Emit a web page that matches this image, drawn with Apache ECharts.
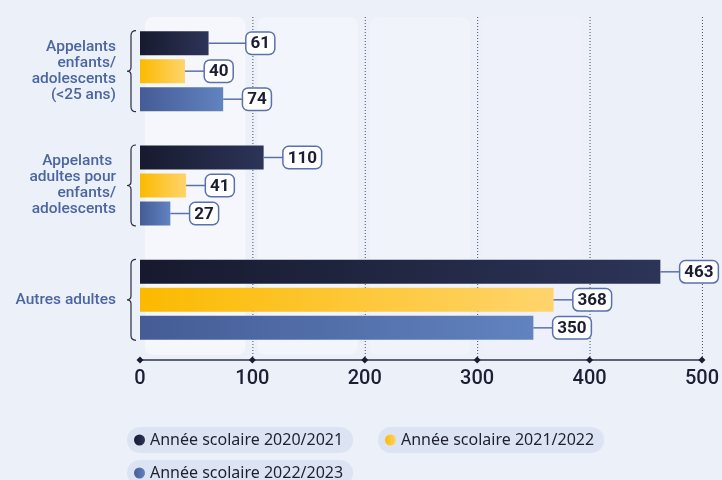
<!DOCTYPE html>
<html>
<head>
<meta charset="utf-8">
<script src="https://cdn.jsdelivr.net/npm/echarts@6/dist/echarts.min.js"></script>
<style>
  html, body { margin: 0; padding: 0; background: #ECF0F9; }
  #chart { width: 722px; height: 480px; }
</style>
</head>
<body>
<div id="chart"></div>
<script>
// Caller groups (y axis, top to bottom)
const categories = [
  'Appelants\nenfants/\nadolescents\n(<25 ans)',
  'Appelants \nadultes pour\nenfants/\nadolescents',
  'Autres adultes'
];
// School years shown as series
const seriesNames = ['Année scolaire 2020/2021', 'Année scolaire 2021/2022', 'Année scolaire 2022/2023'];
const values2021 = [61, 110, 463];
const values2122 = [40, 41, 368];
const values2223 = [74, 27, 350];
// Value axis ticks
const xTicks = [0, 100, 200, 300, 400, 500];

const seriesValues = [values2021, values2122, values2223];

const FONT_NUM = 'Roboto, "DejaVu Sans", sans-serif';
const gradients = [
  ['#171A2E', '#2C3458'],
  ['#FBBA00', '#FFD46C'],
  ['#455C96', '#6183BF']
];
const panelFills = ['#F5F7FC', '#F2F5FB', '#F0F3FA', '#EEF1F9'];
const LINE_BLUE = '#5A71AB';

function grad(c) {
  return new echarts.graphic.LinearGradient(0, 0, 1, 0, [
    { offset: 0, color: c[0] },
    { offset: 1, color: c[1] }
  ]);
}

const valueLabel = {
  show: true,
  position: 'right',
  distance: 0,
  rich: {
    ln: { width: 20, height: 1.5, backgroundColor: LINE_BLUE },
    lnLong: { width: 38, height: 1.5, backgroundColor: LINE_BLUE },
    bx: {
      backgroundColor: '#FFFFFF',
      borderColor: LINE_BLUE,
      borderWidth: 1.5,
      borderRadius: 5,
      padding: [3, 4, 1, 4],
      fontFamily: FONT_NUM,
      fontWeight: 'bold',
      fontSize: 17,
      lineHeight: 18,
      color: '#1B1E33'
    }
  }
};

const barSeries = seriesNames.map((name, s) => ({
  name: name,
  type: 'bar',
  z: 2,
  barWidth: 24,
  barGap: '16.7%',
  itemStyle: { color: grad(gradients[s]) },
  label: Object.assign({}, valueLabel, {
    // first label of the top group gets a longer leader so it clears its neighbours
    formatter: p => (s === 0 && p.dataIndex === 0 ? '{lnLong|}' : '{ln|}') + '{bx|' + p.value + '}'
  }),
  data: seriesValues[s]
}));

// Background panels, dotted grid lines and diamond tick marks, placed on the value axis
const decorSeries = {
  type: 'custom',
  z: 1,
  silent: true,
  data: xTicks.map(v => [v]),
  encode: { x: 0 },
  renderItem: function (params, api) {
    const v = api.value(0);
    const cs = params.coordSys;
    const x = api.coord([v, 0])[0];
    const top = cs.y + 3;
    const bottom = cs.y + cs.height + 3;
    const children = [];
    const idx = params.dataIndex;
    if (idx < panelFills.length) {
      const nx = api.coord([xTicks[idx + 1], 0])[0];
      children.push({
        type: 'rect',
        shape: { x: x + 5, y: top, width: nx - x - 12, height: cs.height - 5, r: 8 },
        style: { fill: panelFills[idx] }
      });
    }
    if (v > 0) {
      children.push({
        type: 'line',
        shape: { x1: x + 0.5, y1: top, x2: x + 0.5, y2: bottom },
        style: { stroke: '#4A4F63', lineWidth: 1, lineDash: [1, 2] }
      });
    }
    const d = 3.5;
    children.push({
      type: 'polygon',
      shape: { points: [[x, bottom - d], [x + d, bottom], [x, bottom + d], [x - d, bottom]] },
      style: { fill: '#1B1E33' }
    });
    return { type: 'group', children: children };
  }
};

// Curly braces to the left of each bar group
const braceSeries = {
  type: 'custom',
  z: 3,
  silent: true,
  data: categories.map((c, i) => [i]),
  encode: { y: 0 },
  renderItem: function (params, api) {
    const cs = params.coordSys;
    const yc = api.coord([0, api.value(0)])[1];
    const half = 40.5;
    const hx = cs.x - 4, vx = cs.x - 9, px = cs.x - 13;
    const t = yc - half, b = yc + half;
    const d = 'M' + hx + ',' + t +
      ' Q' + vx + ',' + t + ' ' + vx + ',' + (t + 5) +
      ' L' + vx + ',' + (yc - 4) +
      ' Q' + vx + ',' + yc + ' ' + px + ',' + yc +
      ' Q' + vx + ',' + yc + ' ' + vx + ',' + (yc + 4) +
      ' L' + vx + ',' + (b - 5) +
      ' Q' + vx + ',' + b + ' ' + hx + ',' + b;
    return {
      type: 'path',
      shape: { pathData: d },
      style: { fill: 'none', stroke: '#2B2E42', lineWidth: 1.2 }
    };
  }
};

const legendPos = [[127, 427], [378, 427], [127, 460]];
const legends = seriesNames.map((n, i) => ({
  data: [n],
  left: legendPos[i][0],
  top: legendPos[i][1],
  orient: 'horizontal',
  selectedMode: false,
  icon: 'circle',
  itemWidth: 11,
  itemHeight: 11,
  padding: [5, 10, 5, 7],
  backgroundColor: '#DCE4F4',
  borderRadius: 13,
  textStyle: { fontFamily: '"Noto Sans", sans-serif', fontSize: 16, lineHeight: 16, color: '#1F2030' }
}));

const chart = echarts.init(document.getElementById('chart'), null, { renderer: 'canvas' });
chart.setOption({
  backgroundColor: '#ECF0F9',
  animation: false,
  legend: legends,
  grid: { left: 140, right: 13, top: 14, height: 343, containLabel: false },
  xAxis: {
    type: 'value',
    min: xTicks[0],
    max: xTicks[xTicks.length - 1],
    interval: 100,
    offset: 3,
    axisLine: { show: true, lineStyle: { color: '#30354D', width: 1.5 } },
    axisTick: { show: false },
    splitLine: { show: false },
    axisLabel: { fontFamily: FONT_NUM, fontSize: 20, fontWeight: 500, color: '#1C2035', margin: 9 }
  },
  yAxis: {
    type: 'category',
    inverse: true,
    data: categories,
    axisLine: { show: false },
    axisTick: { show: false },
    splitLine: { show: false },
    axisLabel: {
      margin: 24,
      fontFamily: FONT_NUM,
      fontSize: 15.5,
      fontWeight: 500,
      lineHeight: 16,
      color: '#4C66A1',
      align: 'right'
    }
  },
  series: [decorSeries, braceSeries].concat(barSeries)
});
</script>
</body>
</html>
